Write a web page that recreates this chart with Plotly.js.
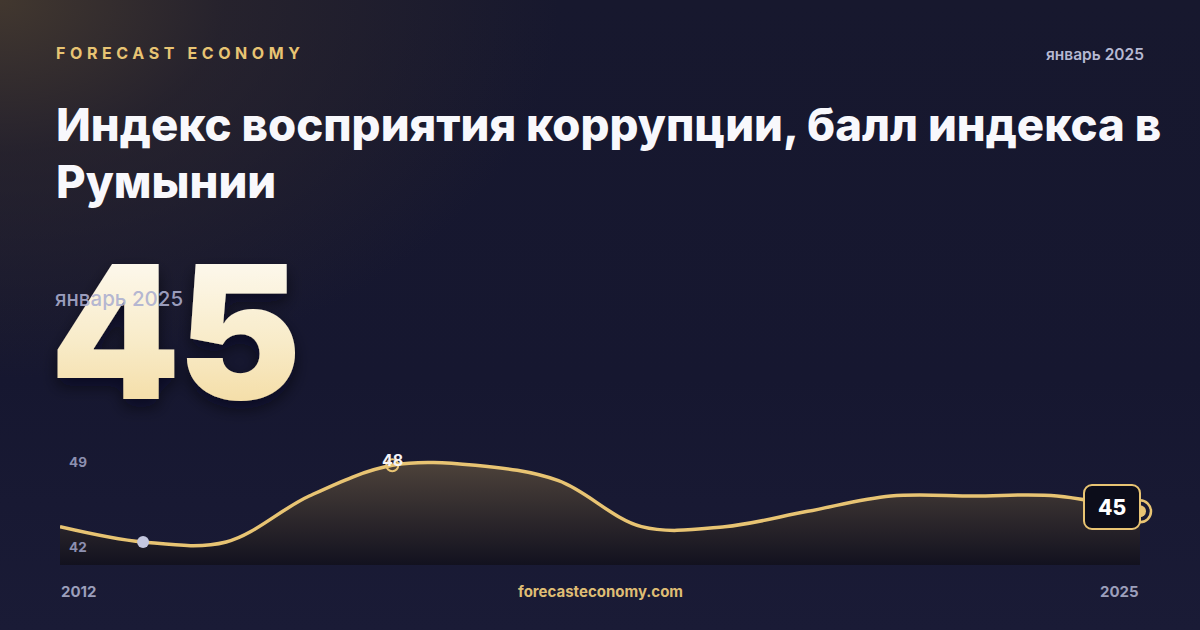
<!DOCTYPE html>
<html>
<head>
<meta charset="utf-8">
<script src="https://cdn.plot.ly/plotly-3.0.1.min.js"></script>
<style>
  html, body { margin: 0; padding: 0; }
  body {
    width: 1200px; height: 630px; overflow: hidden;
    background:
      radial-gradient(ellipse 560px 380px at 0% 0%, rgba(68,57,47,0.95) 0%, rgba(48,41,44,0.6) 40%, rgba(23,24,46,0) 100%),
      linear-gradient(180deg, #17182e 0%, #161730 60%, #1a1b36 100%);
  }
  #chart { width: 1200px; height: 630px; }
</style>
</head>
<body>
<div id="chart"></div>
<script>
// ---- data ----
const years = [2012, 2013, 2014, 2015, 2016, 2017, 2018, 2019, 2020, 2021, 2022, 2023, 2024, 2025];
const scores = [44, 43, 43, 46, 48, 48, 47, 44, 44, 45, 46, 46, 46, 45];
const brandLabel = "FORECAST ECONOMY";
const dateLabel = "январь 2025";
const titleLines = ["Индекс восприятия коррупции, балл индекса в", "Румынии"];
const yLabels = ["49", "42"];
const siteLabel = "forecasteconomy.com";

// ---- derived ----
const lastIdx = scores.length - 1;
const maxVal = Math.max(...scores);
const minVal = Math.min(...scores);
const maxIdx = scores.indexOf(maxVal);
const minIdx = scores.indexOf(minVal);

const GOLD = "#e8c473";
const W = 1200, H = 630;
const px = v => v / W;
const py = v => 1 - v / H;
const FONT = "Inter, 'Noto Sans', sans-serif";

const traces = [
  {
    x: years, y: scores, type: "scatter", mode: "lines",
    line: { color: GOLD, width: 3.5, shape: "spline", smoothing: 1 },
    fill: "tozeroy",
    fillgradient: {
      type: "vertical", start: 41.5, stop: maxVal,
      colorscale: [[0, "rgba(18,17,30,0.95)"], [1, "rgba(78,67,58,0.95)"]]
    },
    hoverinfo: "skip", cliponaxis: true
  },
  {
    x: [years[minIdx]], y: [minVal], type: "scatter", mode: "markers",
    marker: { size: 12, color: "#c4c7df" }, cliponaxis: false, hoverinfo: "skip"
  },
  {
    x: [years[maxIdx]], y: [maxVal], type: "scatter", mode: "markers",
    marker: { size: 12, symbol: "circle-open", color: GOLD, line: { width: 2, color: GOLD } },
    cliponaxis: false, hoverinfo: "skip"
  },
  {
    x: [years[lastIdx]], y: [scores[lastIdx]], type: "scatter", mode: "markers",
    marker: { size: 22, symbol: "circle-open", color: GOLD, line: { width: 2.5, color: GOLD } },
    cliponaxis: false, hoverinfo: "skip"
  },
  {
    x: [years[lastIdx]], y: [scores[lastIdx]], type: "scatter", mode: "markers",
    marker: { size: 12, color: GOLD }, cliponaxis: false, hoverinfo: "skip"
  }
];

const annotations = [
  // 0 brand
  { text: brandLabel, xref: "paper", yref: "paper", x: px(54), y: py(53), xanchor: "left", yanchor: "middle", align: "left",
    showarrow: false, font: { family: FONT, size: 16, weight: 700, color: GOLD } },
  // 1 date top right
  { text: dateLabel, xref: "paper", yref: "paper", x: px(1146), y: py(54), xanchor: "right", yanchor: "middle", align: "right",
    showarrow: false, font: { family: FONT, size: 15.5, weight: 600, color: "#b6b9d3" } },
  // 2,3 title lines
  { text: titleLines[0], xref: "paper", yref: "paper", x: px(54), y: py(125), xanchor: "left", yanchor: "middle", align: "left",
    showarrow: false, font: { family: FONT, size: 45.5, weight: 800, color: "#f8f8fc" } },
  { text: titleLines[1], xref: "paper", yref: "paper", x: px(54), y: py(181), xanchor: "left", yanchor: "middle", align: "left",
    showarrow: false, font: { family: FONT, size: 45.5, weight: 800, color: "#f8f8fc" } },
  // 4 big value
  { text: String(scores[lastIdx]), xref: "paper", yref: "paper", x: px(48), y: py(331), xanchor: "left", yanchor: "middle", align: "left",
    showarrow: false, font: { family: FONT, size: 186, weight: 900, color: "#f6e3b4" } },
  // 5 date overlay
  { text: dateLabel, xref: "paper", yref: "paper", x: px(53), y: py(298), xanchor: "left", yanchor: "middle", align: "left",
    showarrow: false, font: { family: FONT, size: 20.5, weight: 500, color: "rgba(172,175,208,0.9)" } },
  // 6,7 y labels
  { text: yLabels[0], xref: "paper", yref: "paper", x: px(67), y: py(462), xanchor: "left", yanchor: "middle",
    showarrow: false, font: { family: FONT, size: 13.5, weight: 700, color: "#8d90b0" } },
  { text: yLabels[1], xref: "paper", yref: "paper", x: px(67), y: py(547), xanchor: "left", yanchor: "middle",
    showarrow: false, font: { family: FONT, size: 13.5, weight: 700, color: "#8d90b0" } },
  // 8,9,10 bottom
  { text: String(years[0]), xref: "paper", yref: "paper", x: px(59), y: py(591), xanchor: "left", yanchor: "middle",
    showarrow: false, font: { family: FONT, size: 15, weight: 700, color: "#9c9fbb" } },
  { text: String(years[lastIdx]), xref: "paper", yref: "paper", x: px(1141), y: py(591), xanchor: "right", yanchor: "middle",
    showarrow: false, font: { family: FONT, size: 15, weight: 700, color: "#9c9fbb" } },
  { text: siteLabel, xref: "paper", yref: "paper", x: px(600), y: py(591), xanchor: "center", yanchor: "middle",
    showarrow: false, font: { family: FONT, size: 15, weight: 700, color: "#dfbd74" } },
  // 11 max label
  { text: String(maxVal), xref: "x", yref: "y", x: years[maxIdx], y: maxVal, xanchor: "center", yanchor: "middle", yshift: 5,
    showarrow: false, font: { family: FONT, size: 16, weight: 700, color: "#f4f4f8" } },
  // 12 last value box
  { text: String(scores[lastIdx]), xref: "x", yref: "y", x: years[lastIdx], y: scores[lastIdx], xanchor: "right", yanchor: "middle",
    yshift: 4, xshift: 1, width: 50, height: 38, borderpad: 2, borderwidth: 2, bordercolor: GOLD, bgcolor: "#0c0d1a",
    showarrow: false, font: { family: FONT, size: 21, weight: 800, color: "#ffffff" } }
];

const layout = {
  width: W, height: H,
  margin: { l: 0, r: 0, t: 0, b: 0 },
  paper_bgcolor: "rgba(0,0,0,0)", plot_bgcolor: "rgba(0,0,0,0)",
  showlegend: false,
  xaxis: { domain: [px(60), px(1140)], range: [years[0], years[lastIdx]], visible: false, fixedrange: true },
  yaxis: { domain: [py(565), py(450)], range: [41.5, 49], visible: false, fixedrange: true },
  annotations: annotations
};

Plotly.newPlot("chart", traces, layout, { displayModeBar: false, staticPlot: true }).then(gd => {
  const NS = "http://www.w3.org/2000/svg";
  const svg = gd.querySelector(".main-svg");
  let defs = svg.querySelector("defs");
  if (!defs) { defs = document.createElementNS(NS, "defs"); svg.insertBefore(defs, svg.firstChild); }
  defs.insertAdjacentHTML("beforeend",
    '<linearGradient id="bigGrad" x1="0" y1="0" x2="0" y2="1">' +
    '<stop offset="0%" stop-color="#ffffff"/><stop offset="55%" stop-color="#f8ebc8"/><stop offset="100%" stop-color="#f2d592"/>' +
    '</linearGradient>' +
    '<filter id="bigShadow" x="-20%" y="-20%" width="140%" height="150%">' +
    '<feDropShadow dx="0" dy="8" stdDeviation="8" flood-color="#05060f" flood-opacity="0.55"/></filter>');
  const ann = i => gd.querySelector('g.annotation[data-index="' + i + '"]');
  ann(0).querySelector("text").style.letterSpacing = "4.6px";
  const big = ann(4).querySelector("text");
  big.style.fill = "url(#bigGrad)";
  big.style.letterSpacing = "-3px";
  big.setAttribute("filter", "url(#bigShadow)");
  const boxRect = ann(12).querySelector("rect.bg");
  if (boxRect) { boxRect.setAttribute("rx", 8); boxRect.setAttribute("ry", 8); }
});
</script>
</body>
</html>
